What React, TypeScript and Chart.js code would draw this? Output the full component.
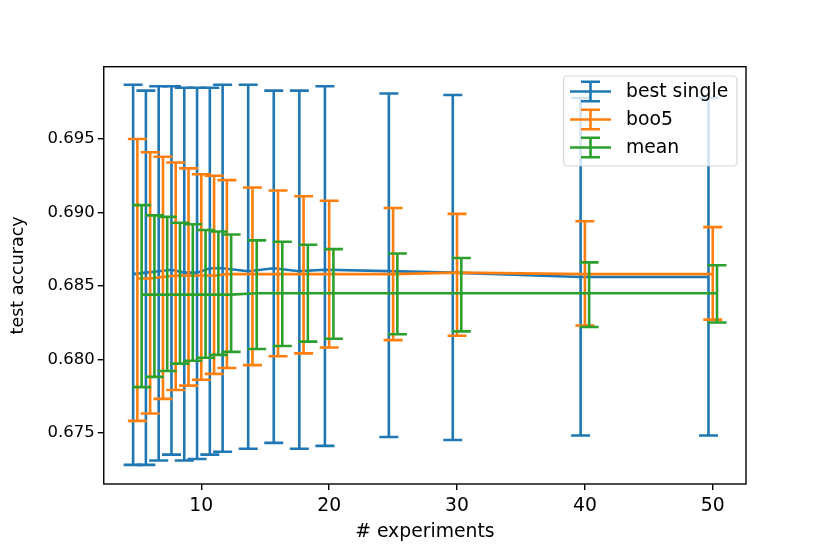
import { useEffect, useRef } from 'react'
import { Chart, registerables } from 'chart.js'
Chart.register(...registerables)

const experiments = [5, 6, 7, 8, 9, 10, 11, 12, 14, 16, 18, 20, 25, 30, 40, 50]

const bestMean = [0.6858, 0.6859, 0.6860, 0.6861, 0.6859, 0.6859, 0.6862, 0.6862, 0.6860, 0.6862, 0.6860, 0.6861, 0.6860, 0.6859, 0.6856, 0.6856]
const bestLow = [0.6728, 0.6728, 0.6731, 0.6735, 0.6731, 0.6732, 0.6735, 0.6737, 0.6739, 0.6743, 0.6739, 0.6741, 0.6747, 0.6745, 0.6748, 0.6748]
const bestHigh = [0.6987, 0.6983, 0.6986, 0.6986, 0.6985, 0.6985, 0.6985, 0.6987, 0.6987, 0.6983, 0.6983, 0.6986, 0.6981, 0.6980, 0.6978, 0.6978]

const boo5Mean = [0.6855, 0.6855, 0.6856, 0.6857, 0.6857, 0.6857, 0.6857, 0.6858, 0.6858, 0.6858, 0.6858, 0.6858, 0.6858, 0.6859, 0.6858, 0.6858]
const boo5Low = [0.6758, 0.6763, 0.6773, 0.6779, 0.6782, 0.6786, 0.6790, 0.6794, 0.6796, 0.6802, 0.6804, 0.6808, 0.6813, 0.6816, 0.6823, 0.6827]
const boo5High = [0.6950, 0.6941, 0.6938, 0.6934, 0.6930, 0.6926, 0.6925, 0.6922, 0.6917, 0.6915, 0.6911, 0.6908, 0.6903, 0.6899, 0.6894, 0.6890]

const meanMean = [0.6844, 0.6844, 0.6844, 0.6844, 0.6844, 0.6844, 0.6844, 0.6844, 0.6845, 0.6845, 0.6845, 0.6845, 0.6845, 0.6845, 0.6845, 0.6845]
const meanLow = [0.6781, 0.6788, 0.6792, 0.6797, 0.6799, 0.6801, 0.6803, 0.6805, 0.6807, 0.6809, 0.6812, 0.6814, 0.6817, 0.6819, 0.6822, 0.6825]
const meanHigh = [0.6905, 0.6898, 0.6897, 0.6893, 0.6892, 0.6888, 0.6887, 0.6885, 0.6881, 0.6880, 0.6878, 0.6875, 0.6872, 0.6869, 0.6866, 0.6864]

const yTicks = [0.675, 0.680, 0.685, 0.690, 0.695]

const series = [
  { label: 'best single', color: '#1f77b4', shift: -1 / 3, mean: bestMean, low: bestLow, high: bestHigh },
  { label: 'boo5', color: '#ff7f0e', shift: 0, mean: boo5Mean, low: boo5Low, high: boo5High },
  { label: 'mean', color: '#2ca02c', shift: 1 / 3, mean: meanMean, low: meanLow, high: meanHigh },
]

const LW = 2.6
const CAP = 9.5
const FONT = 'DejaVu Sans'
const FS = 18.8

// error bars drawn right before each series' line
const errorBars = {
  id: 'errorBars',
  beforeDatasetDraw(chart: any, args: any) {
    const s = series[args.index]
    const { x, y } = chart.scales
    const ctx = chart.ctx
    ctx.save()
    ctx.strokeStyle = s.color
    ctx.lineWidth = LW
    experiments.forEach((e, i) => {
      const px = x.getPixelForValue(e + s.shift)
      const top = y.getPixelForValue(s.high[i])
      const bot = y.getPixelForValue(s.low[i])
      ctx.beginPath()
      ctx.moveTo(px, top); ctx.lineTo(px, bot)
      ctx.moveTo(px - CAP, top); ctx.lineTo(px + CAP, top)
      ctx.moveTo(px - CAP, bot); ctx.lineTo(px + CAP, bot)
      ctx.stroke()
    })
    ctx.restore()
  },
}

// axes frame + matplotlib-like legend in the upper right
const frameAndLegend = {
  id: 'frameAndLegend',
  afterDatasetsDraw(chart: any) {
    const { ctx, chartArea: a } = chart
    ctx.save()
    ctx.strokeStyle = '#000'
    ctx.lineWidth = 1.4
    ctx.strokeRect(a.left, a.top, a.right - a.left, a.bottom - a.top)

    const bx = 563.5, by = 76, bw = 173.5, bh = 90
    ctx.beginPath()
    ctx.roundRect(bx, by, bw, bh, 4)
    ctx.fillStyle = 'rgba(255,255,255,0.8)'
    ctx.fill()
    ctx.strokeStyle = 'rgba(204,204,204,0.8)'
    ctx.lineWidth = 1.2
    ctx.stroke()

    ctx.font = `${FS}px "${FONT}"`
    ctx.textBaseline = 'middle'
    ctx.fillStyle = '#000'
    series.forEach((s, i) => {
      const cy = 91.5 + i * 28
      const cx = 590.5
      ctx.strokeStyle = s.color
      ctx.lineWidth = LW
      ctx.beginPath()
      ctx.moveTo(570, cy); ctx.lineTo(611, cy)
      ctx.moveTo(cx, cy - 9.7); ctx.lineTo(cx, cy + 9.7)
      ctx.moveTo(cx - CAP, cy - 9.7); ctx.lineTo(cx + CAP, cy - 9.7)
      ctx.moveTo(cx - CAP, cy + 9.7); ctx.lineTo(cx + CAP, cy + 9.7)
      ctx.stroke()
      ctx.fillText(s.label, 626, cy + 1)
    })
    ctx.restore()
  },
}

export default function App() {
  const ref = useRef<HTMLCanvasElement | null>(null)
  useEffect(() => {
    if (!ref.current) return
    document.body.style.margin = '0'
    Chart.defaults.font.family = FONT
    Chart.defaults.color = '#000'
    const ctx = ref.current.getContext('2d')!
    const chart = new Chart(ctx, {
      type: 'scatter',
      data: {
        datasets: series.map((s, k) => ({
          label: s.label,
          data: experiments.map((e, i) => ({ x: e + s.shift, y: s.mean[i] })),
          showLine: true,
          borderColor: s.color,
          backgroundColor: s.color,
          borderWidth: LW,
          pointRadius: 0,
          order: 3 - k,
        })),
      },
      options: {
        animation: false,
        responsive: false,
        devicePixelRatio: 1,
        layout: { padding: { top: 66.7, right: 84, left: 0, bottom: 0 } },
        plugins: { legend: { display: false }, tooltip: { enabled: false } },
        scales: {
          x: {
            type: 'linear',
            min: 2.37,
            max: 52.6,
            afterFit: (s: any) => { s.height = 70 },
            border: { display: false },
            grid: { drawOnChartArea: false, drawTicks: true, tickLength: 6, color: '#000', lineWidth: 1.4 },
            ticks: { stepSize: 10, includeBounds: false, padding: 5, font: { size: FS }, color: '#000', maxRotation: 0 },
            title: { display: true, text: '# experiments', font: { size: FS }, color: '#000', padding: { top: 0, bottom: 10.5 } },
          },
          y: {
            type: 'linear',
            min: 0.6715,
            max: 0.69993,
            afterFit: (s: any) => { s.width = 103.75 },
            afterBuildTicks: (s: any) => { s.ticks = yTicks.map(v => ({ value: v })) },
            border: { display: false },
            grid: { drawOnChartArea: false, drawTicks: true, tickLength: 6, color: '#000', lineWidth: 1.4 },
            ticks: { padding: 3, font: { size: 16.5 }, color: '#000', callback: (v: any) => Number(v).toFixed(3) },
            title: { display: true, text: 'test accuracy', font: { size: 17.5 }, color: '#000', padding: { top: 8, bottom: 0 } },
          },
        },
      },
      plugins: [errorBars, frameAndLegend],
    })
    return () => chart.destroy()
  }, [])
  return <canvas ref={ref} width={830} height={554} />
}
